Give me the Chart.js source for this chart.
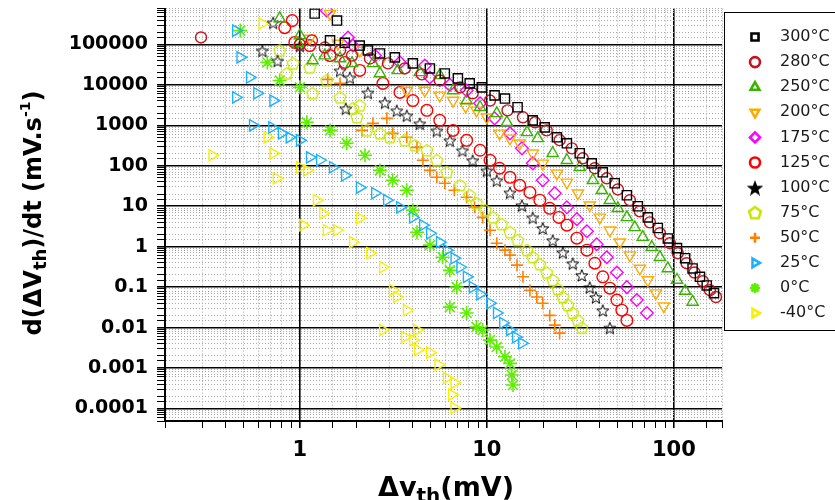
<!DOCTYPE html>
<html>
<head>
<meta charset="utf-8">
<script src="https://cdn.jsdelivr.net/npm/chart.js"></script>
<style>
html, body { margin: 0; padding: 0; background: #fff; }
canvas { display: block; }
</style>
</head>
<body>
<canvas id="chart" width="835" height="500"></canvas>
<script>
// tick labels shown on the axes
const xTickLabels = ["1", "10", "100"];
const yTickLabels = ["0.0001", "0.001", "0.01", "0.1", "1", "10", "100", "1000", "10000", "100000"];

const seriesLabels = ["300°C", "280°C", "250°C", "200°C", "175°C", "125°C", "100°C", "75°C", "50°C", "25°C", "0°C", "-40°C"];

// ΔVth (mV) / d(ΔVth)/dt (mV/s)
const x300 = [1.20, 1.58, 1.45, 1.74, 2.09, 2.31, 2.68, 3.22, 4.02, 4.96, 5.96, 7.0, 8.1, 9.4, 11.0, 12.5, 14.6, 17.6, 20.4, 23.7, 26.8, 31.4, 36.4, 41.7, 48.3, 56.1, 64.2, 72.6, 82.1, 92.9, 104, 115, 126, 138, 150, 164];
const y300 = [5.8e5, 3.9e5, 1.26e5, 1.1e5, 9.4e4, 7.1e4, 6.0e4, 4.8e4, 3.4e4, 2.55e4, 1.92e4, 1.45e4, 1.09e4, 8.7e3, 5.5e3, 4.6e3, 2.8e3, 1.33e3, 890, 506, 360, 204, 115, 69, 37, 18.7, 10, 5.3, 2.9, 1.6, 0.92, 0.52, 0.29, 0.18, 0.11, 0.071];

const x280 = [0.296, 1.0, 1.16, 1.36, 1.64, 1.90, 2.37, 2.96, 3.64, 4.49, 5.6, 7.2, 8.4, 10.4, 12.9, 15.6, 18.1, 20.9, 24.5, 28.5, 32.6, 37.8, 43.8, 50.2, 58.2, 65.8, 74.5, 84.2, 95.2, 105, 117, 129, 143, 156, 168];
const y280 = [1.49e5, 1.0e5, 1.26e5, 8.4e4, 7.1e4, 5.3e4, 4.5e4, 3.4e4, 2.55e4, 1.82e4, 1.29e4, 8.7e3, 6.2e3, 4.1e3, 2.35e3, 1.58e3, 1.19e3, 750, 430, 270, 153, 87, 49, 26, 14.1, 7.5, 4.0, 2.15, 1.22, 0.69, 0.39, 0.23, 0.14, 0.084, 0.057];

const x250 = [0.78, 1.0, 0.98, 1.17, 1.36, 1.64, 1.90, 2.46, 2.68, 3.34, 4.38, 5.6, 6.6, 7.8, 9.2, 11.3, 12.8, 16.4, 18.7, 22.5, 26.8, 31.4, 36.9, 41.2, 45.5, 50.2, 56.1, 61.8, 68.2, 76.2, 84.2, 92.9, 104, 115, 126];
const y250 = [4.4e5, 1.67e5, 1.06e5, 4.0e4, 5.3e4, 4.5e4, 3.4e4, 3.4e4, 1.92e4, 2.28e4, 2.04e4, 1.72e4, 7.3e3, 4.1e3, 2.8e3, 1.98e3, 1.19e3, 670, 477, 204, 137, 92, 44, 24.8, 14.1, 8.9, 5.3, 3.0, 1.72, 0.97, 0.55, 0.29, 0.15, 0.080, 0.043];

const x200 = [1.45, 1.13, 1.60, 2.09, 2.68, 3.73, 4.66, 5.6, 6.6, 7.7, 8.8, 10, 11.7, 13.3, 15.0, 17.6, 19.9, 23.7, 26.8, 30.7, 35.5, 40.2, 45.5, 51.4, 58.2, 65.8, 72.6, 80.1, 88.4];
const y200 = [5.8e5, 1.4e5, 1.06e5, 7.1e4, 3.6e4, 7.3e3, 7.3e3, 5.5e3, 4.1e3, 2.94e3, 2.35e3, 1.58e3, 634, 477, 360, 204, 115, 65, 39, 21, 10.6, 5.3, 2.55, 1.29, 0.62, 0.29, 0.15, 0.071, 0.034];

const x175 = [1.39, 1.81, 1.92, 2.52, 3.43, 4.66, 4.96, 6.34, 7.8, 9.2, 11.0, 13.3, 15.4, 17.6, 19.9, 23.1, 26.8, 30.3, 34.3, 38.7, 43.8, 49.6, 56.1, 63.4, 71.8];
const y175 = [6.9e5, 1.49e5, 9.4e4, 5.3e4, 3.6e4, 3.0e4, 1.53e4, 1.0e4, 7.3e3, 3.5e3, 1.49e3, 634, 270, 115, 44, 21, 9.4, 4.8, 2.41, 1.15, 0.55, 0.23, 0.10, 0.048, 0.023];

const x125 = [0.83, 0.91, 0.94, 1.13, 1.45, 1.74, 2.09, 2.78, 3.43, 4.02, 4.78, 5.6, 6.6, 7.8, 9.2, 10.4, 11.7, 13.3, 15.0, 17.0, 19.2, 21.7, 24.3, 26.8, 30.3, 34.3, 37.8, 41.7, 45.5, 49.6, 52.7, 56.1];
const y125 = [2.6e5, 3.9e5, 1.12e5, 9.4e4, 5.3e4, 3.6e4, 2.28e4, 1.09e4, 6.5e3, 4.1e3, 2.35e3, 1.33e3, 750, 427, 242, 137, 87, 52, 33, 22, 14.1, 8.9, 5.3, 3.4, 1.62, 0.82, 0.39, 0.18, 0.094, 0.048, 0.027, 0.015];

const x100 = [0.72, 0.63, 0.76, 1.0, 1.64, 1.85, 1.76, 2.31, 2.85, 3.30, 3.73, 4.38, 5.4, 6.34, 7.4, 8.4, 10, 11.3, 13.3, 15.4, 17.6, 19.9, 22.5, 25.5, 28.8, 32.2, 35.5, 38.3, 41.7, 45.5];
const y100 = [3.5e5, 7.1e4, 4.0e4, 9.4e4, 2.28e4, 1.53e4, 2.63e3, 6.5e3, 3.7e3, 2.35e3, 1.77e3, 1.12e3, 750, 427, 242, 137, 77, 44, 22, 10.6, 5.3, 2.9, 1.45, 0.73, 0.39, 0.20, 0.10, 0.057, 0.027, 0.010];

const x75 = [0.78, 0.92, 0.85, 1.13, 1.17, 1.39, 1.64, 1.92, 2.09, 2.02, 2.28, 2.68, 3.03, 3.64, 4.12, 4.78, 5.4, 6.1, 7.2, 8.1, 8.8, 9.8, 10.8, 12.0, 13.3, 14.6, 16.4, 17.6, 19.2, 20.9, 22.5, 24.0, 25.5, 27.1, 28.8, 30.7, 32.2];
const y75 = [7.1e4, 3.4e4, 1.92e4, 2.7e4, 6.2e3, 1.29e4, 4.9e3, 2.63e3, 3.1e3, 1.58e3, 750, 634, 506, 427, 320, 242, 137, 69, 33, 18.7, 11.9, 8.0, 5.3, 3.6, 2.28, 1.45, 0.82, 0.55, 0.37, 0.23, 0.15, 0.089, 0.057, 0.036, 0.023, 0.015, 0.010];

const x50 = [1.41, 1.64, 2.15, 2.46, 2.92, 3.14, 3.73, 4.23, 4.55, 4.96, 5.4, 5.96, 6.7, 7.8, 8.6, 9.5, 10.4, 11.3, 12.5, 13.3, 14.5, 15.6, 17.0, 18.5, 19.9, 21.7, 23.1, 24.5];
const y50 = [1.37e4, 1.09e4, 750, 1.12e3, 1.49e3, 634, 506, 286, 137, 77, 52, 37, 24.8, 16.7, 9.4, 5.3, 2.55, 1.22, 0.82, 0.62, 0.35, 0.18, 0.084, 0.057, 0.040, 0.020, 0.0115, 0.0073];

const x25 = [0.455, 0.48, 0.54, 0.455, 0.59, 0.72, 0.56, 0.71, 0.80, 0.88, 1.0, 1.13, 1.28, 1.50, 1.74, 2.09, 2.52, 2.92, 3.43, 4.02, 4.55, 4.96, 5.6, 6.1, 6.7, 7.2, 7.8, 8.4, 9.2, 10.4, 11.3, 12.2, 13.3, 14.3, 15.4];
const y25 = [2.2e5, 4.8e4, 1.53e4, 4.9e3, 6.2e3, 4.1e3, 1.0e3, 890, 634, 506, 427, 162, 137, 92, 58, 29, 21, 14.1, 9.4, 5.3, 3.4, 2.15, 1.29, 0.82, 0.52, 0.31, 0.18, 0.10, 0.067, 0.040, 0.023, 0.013, 0.0087, 0.0058, 0.0041];

const x0 = [0.48, 0.67, 0.78, 1.0, 1.09, 1.45, 1.78, 2.23, 2.68, 3.14, 3.73, 4.02, 4.23, 4.96, 5.8, 6.34, 6.9, 6.34, 7.8, 8.8, 9.5, 10.4, 11.3, 12.5, 13.3, 13.6, 13.8];
const y0 = [2.2e5, 3.6e4, 1.29e4, 8.7e3, 1.19e3, 750, 360, 182, 77, 44, 24.8, 8.0, 2.28, 1.09, 0.55, 0.26, 0.10, 0.032, 0.023, 0.0103, 0.0087, 0.0049, 0.0033, 0.0019, 0.0013, 6.7e-4, 3.8e-4];

const xm40 = [0.63, 0.34, 0.67, 0.72, 0.75, 1.0, 1.09, 1.23, 1.33, 1.04, 1.39, 1.58, 2.09, 1.92, 2.37, 2.78, 3.14, 3.30, 3.73, 2.78, 3.64, 4.23, 4.02, 4.27, 4.96, 5.5, 6.1, 6.7, 6.5, 6.7];
const ym40 = [3.3e5, 182, 506, 204, 49, 92, 77, 14.1, 6.7, 3.4, 2.55, 2.55, 5.1, 1.29, 0.69, 0.31, 0.084, 0.057, 0.027, 0.0087, 0.0058, 0.0087, 0.0049, 0.0028, 0.0024, 0.0012, 5.7e-4, 4.3e-4, 2.2e-4, 1.03e-4];

const xSeries = [x300, x280, x250, x200, x175, x125, x100, x75, x50, x25, x0, xm40];
const ySeries = [y300, y280, y250, y200, y175, y125, y100, y75, y50, y25, y0, ym40];

// marker shapes
function starCanvas(color, filled, lw) {
    const s = 16, c = document.createElement("canvas");
    c.width = s; c.height = s;
    const g = c.getContext("2d");
    g.beginPath();
    for (let k = 0; k < 10; k++) {
        const a = -Math.PI / 2 + k * Math.PI / 5;
        const rr = k % 2 ? 2.7 : 6.4;
        g.lineTo(s / 2 + rr * Math.cos(a), s / 2 + 1 + rr * Math.sin(a));
    }
    g.closePath();
    if (filled) { g.fillStyle = color; g.fill(); }
    g.strokeStyle = color; g.lineWidth = lw; g.stroke();
    return c;
}
function pentagonCanvas(color, lw) {
    const s = 16, c = document.createElement("canvas");
    c.width = s; c.height = s;
    const g = c.getContext("2d");
    g.beginPath();
    for (let k = 0; k < 5; k++) {
        const a = -Math.PI / 2 + k * 2 * Math.PI / 5;
        g.lineTo(s / 2 + 6.2 * Math.cos(a), s / 2 + 0.5 + 6.2 * Math.sin(a));
    }
    g.closePath();
    g.strokeStyle = color; g.lineWidth = lw; g.stroke();
    return c;
}

const colors = ["#000000", "#C4141E", "#36B400", "#FFAA00", "#FF00FF", "#FF0000", "#000000", "#C8E600", "#FF8000", "#1AB2FF", "#5CF000", "#F8F000"];
const styles = ["rect", "circle", "triangle", "triangle", "rectRot", "circle", starCanvas("#000", false, 1), pentagonCanvas("#C8E600", 1.3), "cross", "triangle", "star", "triangle"];
const legendStyles = ["rect", "circle", "triangle", "triangle", "rectRot", "circle", starCanvas("#000", true, 1.5), pentagonCanvas("#C8E600", 2.6), "cross", "triangle", "star", "triangle"];
const rotations = [0, 0, 0, 180, 0, 0, 0, 0, 0, 90, 0, 90];
const radii = [6.5, 5.5, 6.5, 6.5, 6.3, 5.8, 7, 7, 6, 6.5, 7, 6.5];

const datasets = seriesLabels.map((label, i) => ({
    label: label,
    data: xSeries[i].map((x, j) => ({ x: x, y: ySeries[i][j] })),
    showLine: false,
    borderColor: colors[i],
    backgroundColor: "rgba(0,0,0,0)",
    pointBorderColor: colors[i],
    pointBackgroundColor: "rgba(0,0,0,0)",
    pointStyle: styles[i],
    pointRotation: rotations[i],
    pointRadius: radii[i],
    pointBorderWidth: i === 8 || i === 10 ? 1.6 : 1.4
}));

function isDecade(v) {
    const l = Math.log10(v);
    return Math.abs(l - Math.round(l)) < 1e-6;
}
function labelFor(list, v) {
    return list.find(s => Math.abs(Number(s) - v) / v < 1e-6) || "";
}
const gridColor = c => (c.tick && isDecade(c.tick.value)) ? "#000" : "#a8a8a8";
const gridWidth = c => (c.tick && isDecade(c.tick.value)) ? 1.6 : 1;
const gridDash = c => (c.tick && isDecade(c.tick.value)) ? [] : [1, 2];

// axis titles with subscripts
const titlesPlugin = {
    id: "titles",
    afterDraw(chart) {
        const ctx = chart.ctx;
        ctx.save();
        ctx.fillStyle = "#000";
        ctx.textBaseline = "alphabetic";
        function run(parts, cx, cy) {
            let w = 0;
            parts.forEach(p => { ctx.font = p[1]; w += ctx.measureText(p[0]).width; });
            let x = cx - w / 2;
            parts.forEach(p => { ctx.font = p[1]; ctx.fillText(p[0], x, cy + p[2]); x += ctx.measureText(p[0]).width; });
        }
        const bx = 'bold 27px "DejaVu Sans"', sx = 'bold 20px "DejaVu Sans"';
        run([["Δv", bx, 0], ["th", sx, 6], ["(mV)", bx, 0]], 446, 496);
        ctx.translate(41, 213);
        ctx.rotate(-Math.PI / 2);
        const by = 'bold 24px "DejaVu Sans"', sy = 'bold 18px "DejaVu Sans"', sp = 'bold 14px "DejaVu Sans"';
        run([["d(ΔV", by, 0], ["th", sy, 5], [")/dt (mV.s", by, 0], ["-1", sp, -11], [")", by, 0]], 0, 0);
        ctx.restore();
    }
};

const legendPlugin = {
    id: "boxLegend",
    afterDraw(chart) {
        const ctx = chart.ctx;
        ctx.save();
        ctx.fillStyle = "#fff";
        ctx.fillRect(724, 12, 120, 318);
        ctx.strokeStyle = "#000";
        ctx.lineWidth = 1;
        ctx.strokeRect(724.5, 12.5, 120, 318);
        seriesLabels.forEach((label, i) => {
            const y = 37 + i * 25.1;
            ctx.strokeStyle = colors[i];
            ctx.fillStyle = "rgba(0,0,0,0)";
            ctx.lineWidth = 2.6;
            Chart.helpers.drawPoint(ctx, { pointStyle: legendStyles[i], rotation: rotations[i], radius: 5, borderWidth: 2.6 }, 755, y);
            ctx.fillStyle = "#1a1a1a";
            ctx.font = '16px "DejaVu Sans"';
            ctx.textBaseline = "middle";
            ctx.fillText(label, 780, y);
        });
        ctx.restore();
    }
};

new Chart(document.getElementById("chart"), {
    type: "scatter",
    data: { datasets: datasets },
    plugins: [titlesPlugin, legendPlugin],
    options: {
        responsive: false,
        animation: false,
        events: [],
        layout: { padding: { left: 0, right: 113, top: 8, bottom: 0 } },
        plugins: { legend: { display: false }, tooltip: { enabled: false } },
        scales: {
            x: {
                type: "logarithmic",
                min: 0.19,
                max: 181,
                afterFit(scale) { scale.height = 79; scale.paddingLeft = 0; scale.paddingRight = 0; },
                grid: { color: gridColor, lineWidth: gridWidth, tickColor: "#000", tickWidth: gridWidth, tickLength: 7 },
                border: { display: true, color: "#000", width: 2, dash: gridDash },
                ticks: {
                    autoSkip: false, maxRotation: 0, padding: 10, color: "#000",
                    font: { family: "DejaVu Sans", weight: "bold", size: 21 },
                    callback: v => labelFor(xTickLabels, v)
                }
            },
            y: {
                type: "logarithmic",
                min: 4.9e-5,
                max: 7.7e5,
                afterFit(scale) { scale.width = 165; scale.paddingTop = 0; scale.paddingBottom = 0; },
                grid: { color: gridColor, lineWidth: gridWidth, tickColor: "#000", tickWidth: gridWidth, tickLength: 8 },
                border: { display: true, color: "#000", width: 2, dash: gridDash },
                ticks: {
                    autoSkip: false, padding: 9, color: "#000",
                    font: { family: "DejaVu Sans", weight: "bold", size: 19 },
                    callback: v => labelFor(yTickLabels, v)
                }
            }
        }
    }
});
</script>
</body>
</html>
